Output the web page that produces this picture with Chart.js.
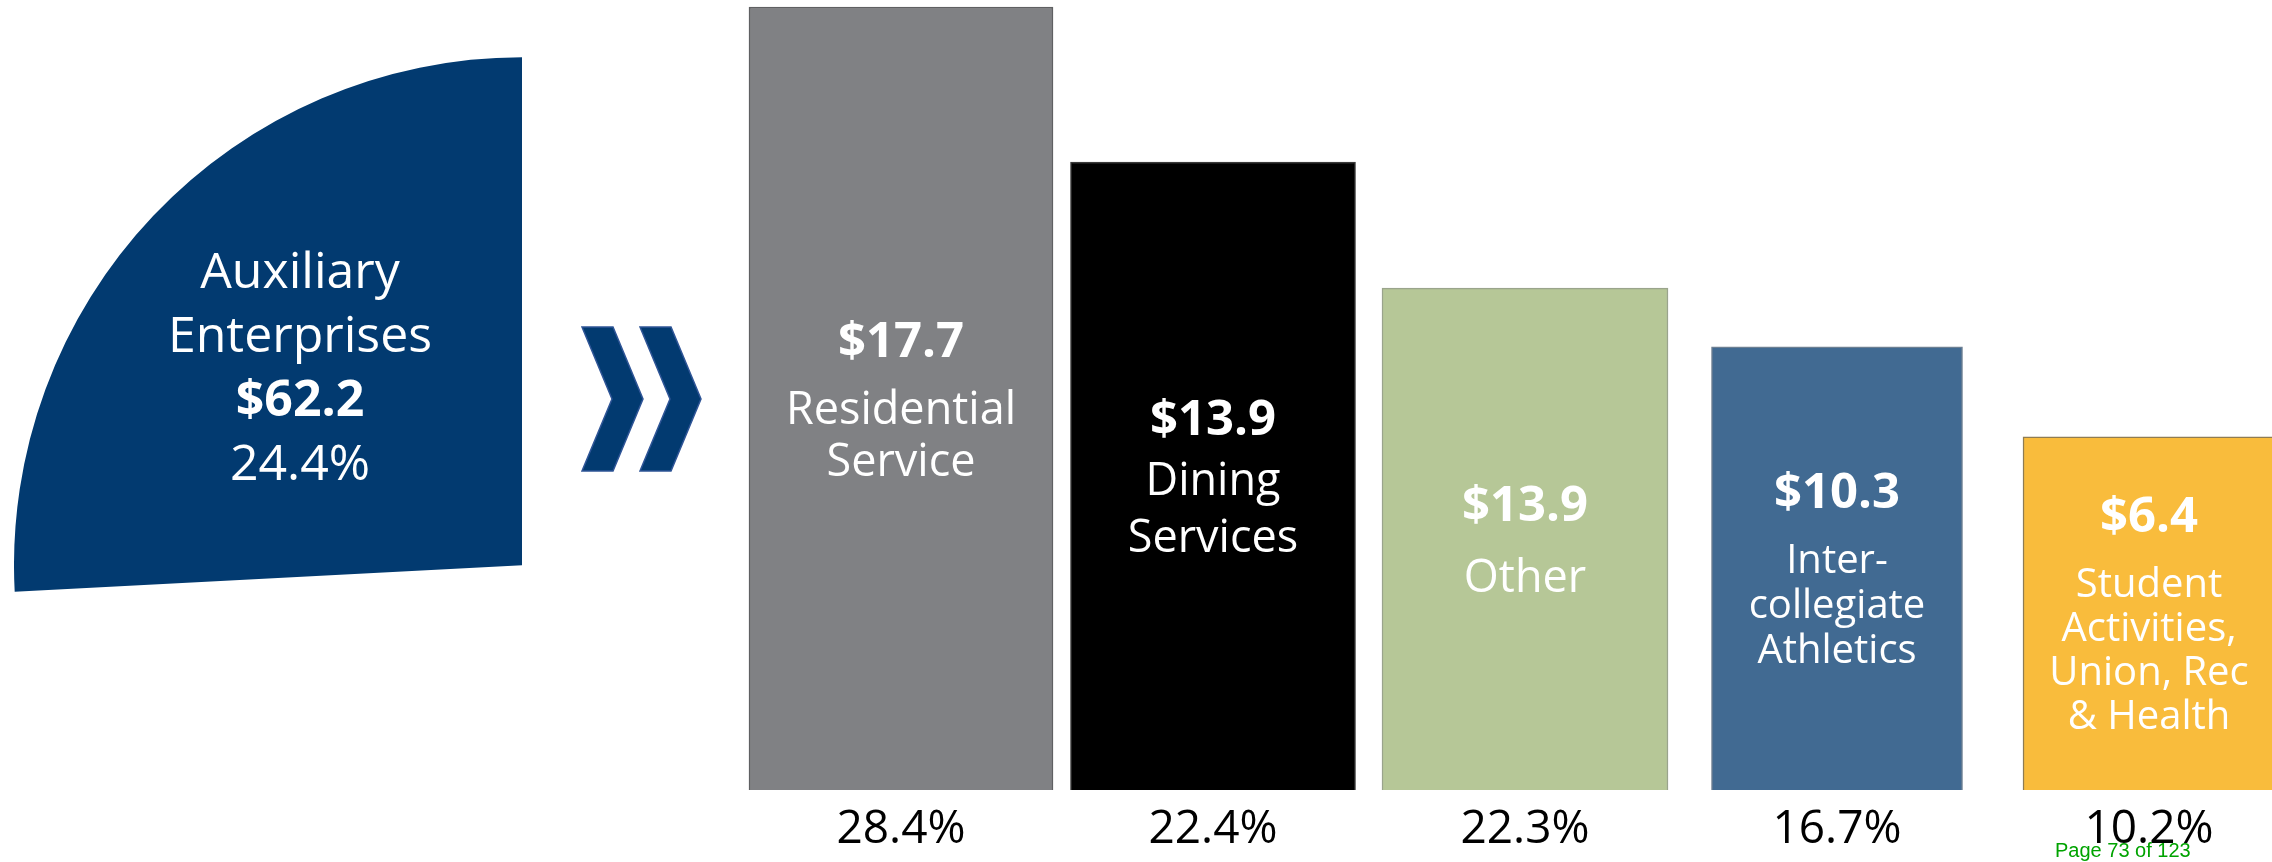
<!DOCTYPE html>
<html>
<head>
<meta charset="utf-8">
<script src="https://cdn.jsdelivr.net/npm/chart.js@4.4.1/dist/chart.umd.min.js"></script>
<style>
  html, body { margin: 0; padding: 0; background: #ffffff; width: 2272px; height: 862px; overflow: hidden; }
  #bars { position: absolute; left: 0; top: 0; }
  #wedge { position: absolute; left: 14px; top: 57px; }
  #page { position: absolute; left: 2055px; top: 840px; font-family: "Liberation Sans", Arial, sans-serif;
          font-size: 20px; line-height: 1; color: #00a300; white-space: nowrap; }
</style>
</head>
<body>
<canvas id="bars" width="2272" height="862"></canvas>
<canvas id="wedge" width="508" height="535"></canvas>
<div id="page">Page 73 of 123</div>
<script>
// ---------------- data ----------------
const totalName = ['Auxiliary', 'Enterprises'];
const totalAmount = 62.2;          // $ millions
const totalShare = 24.4;           // % of all revenue

const categories = ['Residential Service', 'Dining Services', 'Other',
                    'Intercollegiate Athletics', 'Student Activities, Union, Rec & Health'];
const categoryLines = [
  ['Residential', 'Service'],
  ['Dining', 'Services'],
  ['Other'],
  ['Inter-', 'collegiate', 'Athletics'],
  ['Student', 'Activities,', 'Union, Rec', '& Health']
];
const amounts = [17.7, 13.9, 13.9, 10.3, 6.4];          // $ millions
const shares = [28.4, 22.4, 22.3, 16.7, 10.2];           // % of auxiliary
const barHeights = [100, 80.2, 64.1, 56.6, 45.1];        // visual step heights
const shareTicks = shares.map(s => s.toFixed(1) + '%');

// ---------------- styles ----------------
const barColors = ['#808184', '#000000', '#b6c797', '#416a92', '#f9bc3c'];
const barBorders = ['#5f6062', '#3a3a3a', '#9aa48c', '#6d7f92', '#8f7c52'];
const barWidths = [304, 285, 286, 251, 252];
const labelSizes = [45, 45, 45, 40, 40];
const lineGaps = [52, 57, 52, 45, 44];
const valueGaps = [67, 60, 71, 65, 65];
const navy = '#023a70';
const FONT = '"Open Sans", "Noto Sans", sans-serif';

// ---------------- bar chart ----------------
const chevronPlugin = {
  id: 'chevrons',
  beforeDatasetsDraw(chart) {
    const ctx = chart.ctx;
    ctx.save();
    ctx.fillStyle = navy;
    ctx.strokeStyle = '#2f5597';
    ctx.lineWidth = 1.5;
    [0, 58].forEach(dx => {
      ctx.beginPath();
      ctx.moveTo(582 + dx, 327);
      ctx.lineTo(613 + dx, 327);
      ctx.lineTo(643 + dx, 399);
      ctx.lineTo(613 + dx, 471);
      ctx.lineTo(582 + dx, 471);
      ctx.lineTo(612 + dx, 399);
      ctx.closePath();
      ctx.fill();
      ctx.stroke();
    });
    ctx.restore();
  }
};

const barTextPlugin = {
  id: 'barText',
  afterDatasetsDraw(chart) {
    const ctx = chart.ctx;
    ctx.save();
    ctx.fillStyle = '#ffffff';
    ctx.textAlign = 'center';
    ctx.textBaseline = 'alphabetic';
    categories.forEach((c, i) => {
      const el = chart.getDatasetMeta(i).data[i];
      if (!el) return;
      const p = el.getProps(['x', 'y', 'base'], true);
      const center = (p.y + p.base) / 2;
      const lines = categoryLines[i];
      const vb = center - (valueGaps[i] + (lines.length - 1) * lineGaps[i]) / 2 + 17.5;
      ctx.font = 'bold 49px ' + FONT;
      ctx.fillText('$' + amounts[i].toFixed(1), p.x, vb);
      ctx.font = labelSizes[i] + 'px ' + FONT;
      lines.forEach((t, k) => {
        ctx.fillText(t, p.x, vb + valueGaps[i] + k * lineGaps[i]);
      });
    });
    ctx.restore();
  }
};

const barDatasets = categories.map((c, i) => ({
  label: c,
  data: barHeights.map((h, j) => (j === i ? h : null)),
  backgroundColor: barColors[i],
  borderColor: barBorders[i],
  borderWidth: 1.5,
  barThickness: barWidths[i],
  grouped: false,
  clip: false
}));

new Chart(document.getElementById('bars'), {
  type: 'bar',
  data: { labels: shareTicks, datasets: barDatasets },
  options: {
    responsive: false,
    animation: false,
    events: [],
    layout: { padding: { left: 901, right: 123, top: 7, bottom: 0 } },
    plugins: { legend: { display: false }, tooltip: { enabled: false }, title: { display: false } },
    scales: {
      x: {
        type: 'category',
        offset: false,
        grid: { display: false, drawTicks: false },
        border: { display: false },
        ticks: { color: '#000000', font: { family: FONT, size: 46 }, padding: 12, maxRotation: 0, autoSkip: false },
        afterFit(scale) { scale.height = 72; }
      },
      y: { display: false, min: 0, max: 100 }
    }
  },
  plugins: [chevronPlugin, barTextPlugin]
});

// ---------------- wedge (pie slice) ----------------
const wedgeTextPlugin = {
  id: 'wedgeText',
  afterDatasetsDraw(chart) {
    const arc = chart.getDatasetMeta(0).data[0];
    if (!arc) return;
    const ctx = chart.ctx;
    const cx = arc.x - arc.outerRadius * 0.437;
    const top = arc.y - arc.outerRadius * 0.545;
    ctx.save();
    ctx.fillStyle = '#ffffff';
    ctx.textAlign = 'center';
    ctx.textBaseline = 'alphabetic';
    ctx.font = '50px ' + FONT;
    ctx.fillText(totalName[0], cx, top);
    ctx.fillText(totalName[1], cx, top + 64);
    ctx.font = 'bold 50px ' + FONT;
    ctx.fillText('$' + totalAmount.toFixed(1), cx, top + 128);
    ctx.font = '50px ' + FONT;
    ctx.fillText(totalShare.toFixed(1) + '%', cx, top + 192);
    ctx.restore();
  }
};

new Chart(document.getElementById('wedge'), {
  type: 'pie',
  data: {
    labels: ['Auxiliary Enterprises'],
    datasets: [{
      data: [totalShare],
      backgroundColor: navy,
      borderWidth: 0,
      hoverBorderWidth: 0,
      hoverOffset: 0,
      rotation: -93,
      circumference: 93
    }]
  },
  options: {
    responsive: false,
    animation: false,
    events: [],
    rotation: -93,
    circumference: 93,
    layout: { padding: 0 },
    plugins: { legend: { display: false }, tooltip: { enabled: false } }
  },
  plugins: [wedgeTextPlugin]
});
</script>
</body>
</html>
